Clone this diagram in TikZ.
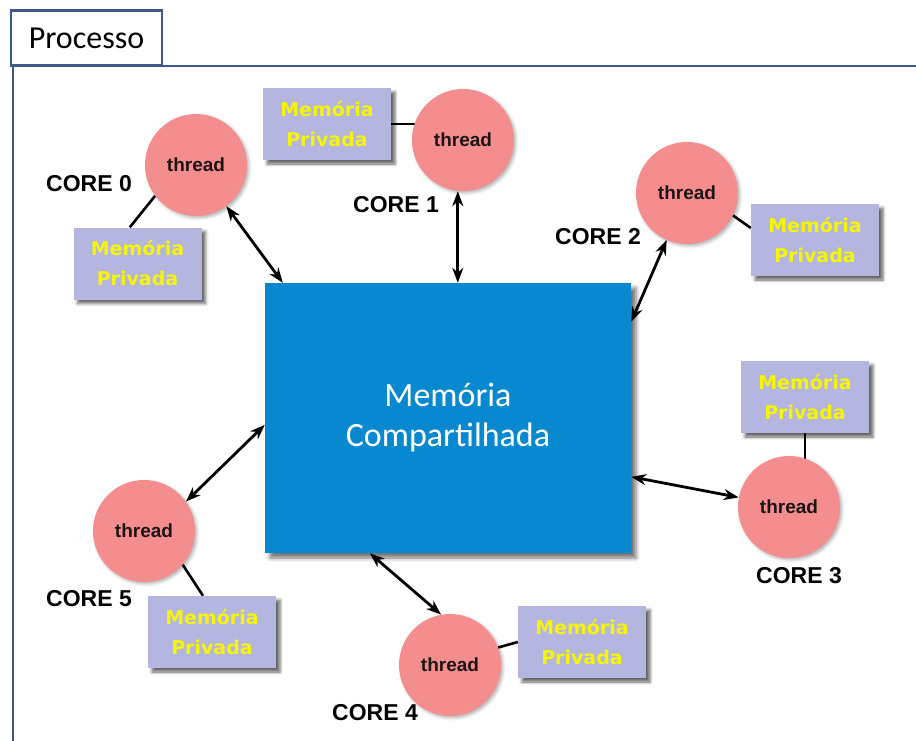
\documentclass[tikz,border=0pt]{standalone}
\usepackage{fontspec}
\setmainfont{Liberation Sans}
\newfontfamily\calibrifont{Carlito}
\newfontfamily\verdanafont{DejaVu Sans}
\usetikzlibrary{arrows.meta,shadows.blur,calc,backgrounds}

\definecolor{framecol}{RGB}{62,88,138}
\definecolor{sharedblue}{RGB}{8,136,206}
\definecolor{threadpink}{RGB}{244,142,142}
\definecolor{privlav}{RGB}{180,182,224}
\definecolor{privtext}{RGB}{246,246,0}
\definecolor{threadtext}{RGB}{30,20,20}

\begin{document}
\begin{tikzpicture}[x=1pt,y=-1pt,
  threadnode/.style={circle, fill=threadpink, minimum size=102pt, inner sep=0pt,
    font=\fontsize{19}{21}\selectfont\bfseries, text=threadtext,
    blur shadow={shadow xshift=2pt, shadow yshift=-2pt, shadow opacity=30, shadow blur radius=3pt}},
  privbox/.style={rectangle, fill=privlav, minimum width=128pt, minimum height=72pt,
    inner sep=0pt, align=center, font=\verdanafont\bfseries\fontsize{19}{30}\selectfont,
    text=privtext,
    blur shadow={shadow xshift=4pt, shadow yshift=-4pt, shadow opacity=60, shadow blur radius=3pt}},
  corelabel/.style={font=\fontsize{23}{26}\selectfont\bfseries, inner sep=0pt},
  link/.style={line width=2.6pt, black},
  access/.style={line width=2.8pt, black,
    {Stealth[length=15pt,width=11pt]}-{Stealth[length=15pt,width=11pt]}},
  framebox/.style={draw=framecol, line width=2.4pt},
]
\useasboundingbox (0,0) rectangle (916,740);
\clip (0,0) rectangle (916,740);

% process frame with its tab
\draw[framebox] (13,66) rectangle (940,780);
\node[framebox, fill=white, minimum width=151pt, minimum height=55pt, inner sep=0pt,
  font=\calibrifont\fontsize{32}{34}\selectfont] (tab) at (86.5,38) {Processo};

% shared memory
\node[rectangle, fill=sharedblue, minimum width=366pt, minimum height=270pt, inner sep=0pt,
  align=center, text=white, font=\calibrifont\fontsize{34}{40}\selectfont,
  blur shadow={shadow xshift=5pt, shadow yshift=-5pt, shadow opacity=55, shadow blur radius=4pt}]
  (mem) at (448,418) {Memória\\Compartilhada};

% threads
\node[threadnode] (t0) at (196,165) {thread};
\node[threadnode] (t1) at (463,140) {thread};
\node[threadnode] (t2) at (687,193) {thread};
\node[threadnode] (t3) at (789,507) {thread};
\node[threadnode] (t4) at (450,665) {thread};
\node[threadnode] (t5) at (144,531) {thread};

% private memories
\node[privbox] (p0) at (137.5,263.5) {Memória\\Privada};
\node[privbox] (p1) at (327,124) {Memória\\Privada};
\node[privbox] (p2) at (815,240) {Memória\\Privada};
\node[privbox] (p3) at (805,397) {Memória\\Privada};
\node[privbox] (p4) at (582,642) {Memória\\Privada};
\node[privbox] (p5) at (212,632) {Memória\\Privada};

% core labels
\node[corelabel, anchor=west] (c0) at (46,184) {CORE 0};
\node[corelabel, anchor=west] (c1) at (353,205) {CORE 1};
\node[corelabel, anchor=west] (c2) at (555,237) {CORE 2};
\node[corelabel, anchor=west] (c3) at (756,576) {CORE 3};
\node[corelabel, anchor=west] (c4) at (332,713) {CORE 4};
\node[corelabel, anchor=west] (c5) at (46,599) {CORE 5};

% thread to private memory links
\begin{pgfonlayer}{background}
\draw[link] (t0.217) -- ($(p0.north west)!0.44!(p0.north east)$);
\draw[link] (p1.east) -- (p1.east -| t1);
\draw[link] (t2.334) -- ($(p2.west)+(0,-12)$);
\draw[link] (p3.south) -- (p3.south |- t3);
\draw[link] (t4.20) -- (p4.west);
\draw[link] (t5.319) -- ($(p5.north west)!0.43!(p5.north east)$);
\end{pgfonlayer}

% access points on the shared memory
\coordinate (m0) at ($(mem.north west)+(18,0)$);
\coordinate (m1) at ($(mem.north west)+(193,0)$);
\coordinate (m2) at ($(mem.north east)+(0,39)$);
\coordinate (m3) at ($(mem.north east)+(0,194)$);
\coordinate (m4) at ($(mem.south west)+(105,0)$);
\coordinate (m5) at ($(mem.north west)+(0,142)$);

% thread to shared memory accesses
\draw[access] (t0) -- (m0);
\draw[access] (m1 |- t1.south) -- (m1);
\draw[access] (t2) -- (m2);
\draw[access] (t3) -- (m3);
\draw[access] (t4.100) -- (m4);
\draw[access] (t5.35) -- (m5);
\end{tikzpicture}
\end{document}
